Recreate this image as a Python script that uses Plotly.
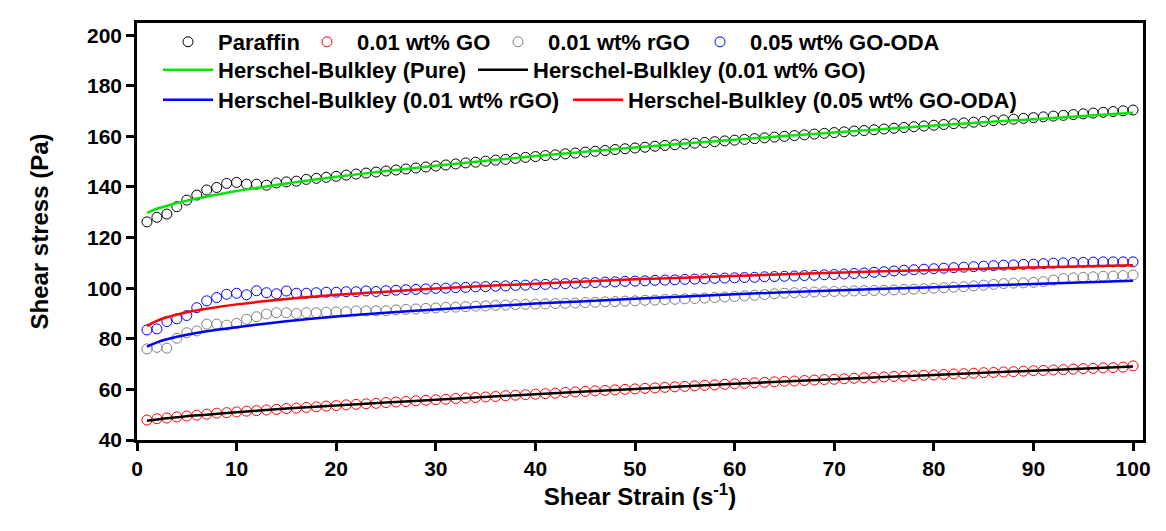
import plotly.graph_objects as go

# Shear rate (1/s) of each measured point
strain = list(range(1, 101))

paraffin = [126.2, 128.0, 129.3, 132.2, 134.8, 136.8, 138.8, 139.8, 141.4, 141.8,
            141.1, 141.1, 140.7, 141.6, 142.0, 142.3, 143.0, 143.4, 143.8, 144.2,
            144.7, 145.1, 145.5, 145.9, 146.3, 146.7, 147.1, 147.5, 147.9, 148.3,
            148.7, 149.1, 149.5, 149.8, 150.2, 150.6, 150.9, 151.3, 151.7, 152.0,
            152.4, 152.7, 153.1, 153.4, 153.8, 154.1, 154.4, 154.8, 155.1, 155.4,
            155.7, 156.1, 156.4, 156.7, 157.0, 157.3, 157.6, 157.9, 158.2, 158.5,
            158.8, 159.1, 159.4, 159.7, 160.0, 160.3, 160.6, 160.9, 161.2, 161.5,
            161.8, 162.1, 162.3, 162.6, 162.9, 163.2, 163.5, 163.8, 164.1, 164.4,
            164.7, 165.0, 165.3, 165.6, 165.9, 166.2, 166.5, 166.8, 167.1, 167.4,
            167.7, 168.0, 168.3, 168.6, 168.9, 169.2, 169.5, 169.8, 170.1, 170.4]

go_01 = [47.9, 48.4, 48.7, 49.1, 49.5, 49.8, 50.2, 50.6, 50.8, 51.1,
         51.4, 51.6, 51.9, 52.1, 52.4, 52.6, 52.9, 53.1, 53.4, 53.6,
         53.9, 54.1, 54.3, 54.5, 54.8, 55.0, 55.2, 55.5, 55.7, 55.9,
         56.1, 56.4, 56.6, 56.8, 57.0, 57.2, 57.5, 57.7, 57.9, 58.1,
         58.3, 58.5, 58.8, 59.0, 59.2, 59.4, 59.6, 59.8, 60.0, 60.2,
         60.4, 60.6, 60.8, 61.0, 61.2, 61.4, 61.6, 61.8, 62.0, 62.2,
         62.4, 62.6, 62.8, 63.0, 63.2, 63.3, 63.5, 63.7, 63.9, 64.0,
         64.2, 64.4, 64.6, 64.7, 64.9, 65.1, 65.2, 65.4, 65.6, 65.7,
         65.9, 66.1, 66.2, 66.4, 66.6, 66.7, 66.9, 67.0, 67.2, 67.4,
         67.5, 67.7, 67.8, 68.0, 68.2, 68.3, 68.5, 68.6, 68.8, 69.3]

rgo_01 = [76.0, 76.6, 76.3, 80.2, 82.4, 83.1, 85.8, 85.8, 85.4, 86.1,
          87.7, 88.7, 89.8, 90.3, 90.3, 90.0, 90.3, 90.3, 90.5, 90.6,
          90.7, 91.0, 91.0, 91.1, 91.1, 91.4, 91.6, 91.8, 92.0, 92.2,
          92.4, 92.5, 92.7, 92.9, 93.0, 93.2, 93.3, 93.5, 93.6, 93.7,
          93.8, 93.9, 94.0, 94.1, 94.3, 94.4, 94.6, 94.7, 94.9, 95.0,
          95.2, 95.3, 95.5, 95.6, 95.8, 95.9, 96.1, 96.3, 96.5, 96.7,
          97.0, 97.2, 97.5, 97.8, 98.0, 98.2, 98.3, 98.5, 98.6, 98.7,
          98.8, 98.9, 99.0, 99.1, 99.2, 99.3, 99.5, 99.6, 99.8, 100.0,
          100.2, 100.4, 100.6, 100.9, 101.2, 101.5, 101.8, 102.0, 102.1, 102.3,
          102.6, 103.2, 103.8, 104.1, 104.3, 104.5, 104.7, 104.8, 105.0, 105.2]

go_oda_05 = [83.5, 83.9, 86.8, 87.9, 89.2, 92.3, 95.0, 96.3, 97.6, 98.0,
             97.4, 99.0, 98.2, 97.8, 98.9, 98.0, 98.0, 98.2, 98.4, 98.4,
             98.6, 98.6, 98.9, 98.7, 99.0, 99.2, 99.4, 99.5, 99.7, 99.9,
             100.0, 100.2, 100.3, 100.5, 100.6, 100.8, 100.9, 101.1, 101.2, 101.4,
             101.5, 101.7, 101.8, 101.9, 102.1, 102.2, 102.4, 102.5, 102.7, 102.8,
             102.9, 103.1, 103.2, 103.3, 103.5, 103.6, 103.7, 103.9, 104.0, 104.1,
             104.2, 104.3, 104.5, 104.6, 104.7, 104.8, 105.0, 105.1, 105.3, 105.4,
             105.6, 105.8, 106.0, 106.3, 106.5, 106.8, 107.1, 107.3, 107.5, 107.7,
             107.9, 108.1, 108.3, 108.5, 108.7, 108.9, 109.1, 109.2, 109.4, 109.5,
             109.7, 109.9, 110.0, 110.1, 110.2, 110.3, 110.4, 110.4, 110.4, 110.4]

# Herschel-Bulkley model curves, sampled along the shear rate axis
fit_strain = [1, 2, 3, 5, 7, 10, 15, 20, 25, 30, 40, 50, 60, 70, 80, 90, 100]
hb_pure = [129.8, 131.4, 132.6, 134.6, 136.2, 138.4, 141.4, 144.0, 146.3, 148.4,
           152.2, 155.6, 158.7, 161.5, 164.3, 166.8, 169.3]
hb_go = [47.6, 48.1, 48.6, 49.4, 50.0, 51.0, 52.4, 53.6, 54.8, 55.9,
         58.1, 60.2, 62.2, 64.0, 65.7, 67.4, 69.0]
hb_rgo = [76.9, 78.6, 79.8, 81.6, 83.0, 84.6, 86.9, 88.8, 90.3, 91.6,
          93.9, 95.8, 97.6, 99.1, 100.4, 101.7, 102.9]
hb_go_oda = [85.1, 87.1, 88.5, 90.5, 91.9, 93.6, 95.7, 97.4, 98.6, 99.9,
             101.8, 103.5, 104.8, 106.1, 107.2, 108.2, 109.1]

FONT = "Arial, Liberation Sans, sans-serif"

fig = go.Figure()

point_series = [
    ("Paraffin", paraffin, "#000000", "legend"),
    ("0.01 wt% GO", go_01, "#ff0000", "legend2"),
    ("0.01 wt% rGO", rgo_01, "#808080", "legend3"),
    ("0.05 wt% GO-ODA", go_oda_05, "#0000ff", "legend4"),
]
for name, ys, color, leg in point_series:
    fig.add_trace(go.Scatter(
        x=strain, y=ys, name=name, mode="markers", legend=leg,
        marker=dict(symbol="circle-open", size=10, color=color,
                    line=dict(color=color, width=1)),
    ))

fit_series = [
    ("Herschel-Bulkley (Pure)", hb_pure, "#00e600", "legend5"),
    ("Herschel-Bulkley (0.01 wt% GO)", hb_go, "#000000", "legend6"),
    ("Herschel-Bulkley (0.01 wt% rGO)", hb_rgo, "#0000ff", "legend7"),
    ("Herschel-Bulkley (0.05 wt% GO-ODA)", hb_go_oda, "#ff0000", "legend8"),
]
for name, ys, color, leg in fit_series:
    fig.add_trace(go.Scatter(
        x=fit_strain, y=ys, name=name, mode="lines", legend=leg,
        line=dict(color=color, width=2.5, shape="spline", smoothing=0.8),
    ))

# Plot box: left 137 px, right 1143 px, top 23 px, bottom 440 px
L, R, T, B = 137, 1143, 23, 440
W, H = 1166, 531


def px_to_paper(px, py):
    return (px - L) / (R - L), (B - py) / (B - T)


ITEM_W = 50
legend_font = dict(family=FONT, size=22, color="#000000", weight="bold")
# pixel spot where each legend entry's text begins, and its row centre
legend_spots = {
    "legend": (218, 42), "legend2": (357, 42), "legend3": (548, 42), "legend4": (750, 42),
    "legend5": (218, 70), "legend6": (533, 70),
    "legend7": (218, 100), "legend8": (628, 100),
}
legend_layout = {}
for key, (px, py) in legend_spots.items():
    lx, ly = px_to_paper(px - ITEM_W - 10, py)
    legend_layout[key] = dict(
        x=lx, y=ly, xanchor="left", yanchor="middle",
        bgcolor="rgba(0,0,0,0)", borderwidth=0, font=legend_font,
        orientation="h", itemwidth=ITEM_W,
    )

axis_common = dict(
    showline=True, linecolor="#000000", linewidth=2.5, mirror=True,
    ticks="outside", ticklen=8, tickwidth=2.5, tickcolor="#000000",
    showgrid=False, zeroline=False,
    tickfont=dict(family=FONT, size=21, color="#000000", weight="bold"),
)

fig.update_layout(
    width=W, height=H,
    margin=dict(l=L, r=W - R, t=T, b=H - B),
    paper_bgcolor="#ffffff", plot_bgcolor="#ffffff",
    showlegend=True,
    xaxis=dict(range=[0, 101], tick0=0, dtick=10,
               title=dict(text="Shear Strain (s<sup>-1</sup>)", standoff=10,
                          font=dict(family=FONT, size=24, color="#000000", weight="bold")),
               **axis_common),
    yaxis=dict(range=[40, 204.8], tick0=40, dtick=20,
               title=dict(text="Shear stress (Pa)", standoff=32,
                          font=dict(family=FONT, size=24, color="#000000", weight="bold")),
               **axis_common),
    **legend_layout,
)

fig.write_html("out.html")
